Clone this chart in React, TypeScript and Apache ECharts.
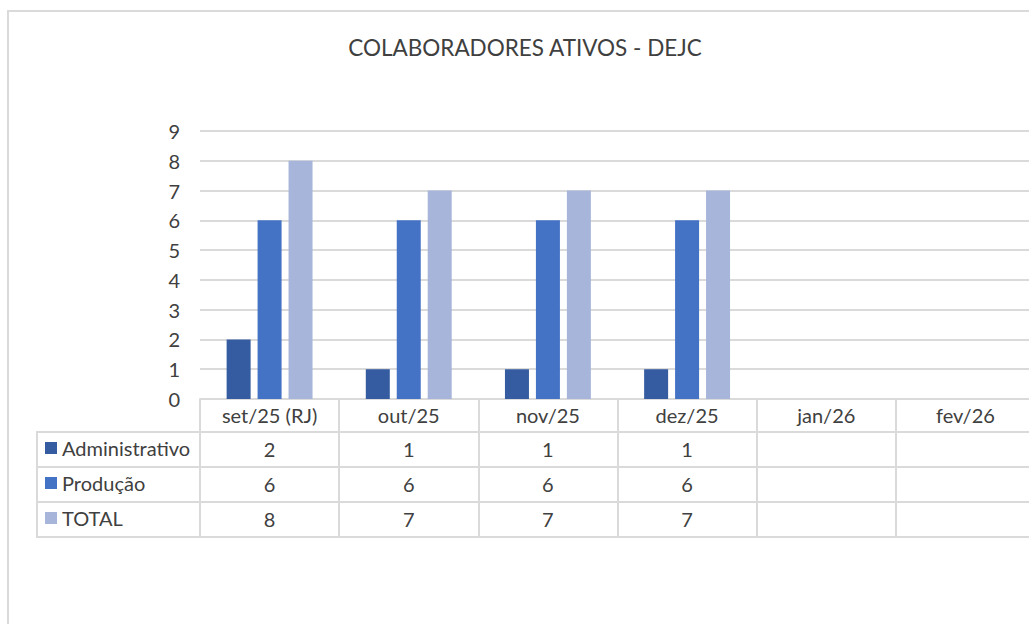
import React, { useEffect, useRef } from "react";
import * as echarts from "echarts";

const title = "COLABORADORES ATIVOS - DEJC";
const categories = ["set/25 (RJ)", "out/25", "nov/25", "dez/25", "jan/26", "fev/26"];
const administrativo: (number | null)[] = [2, 1, 1, 1, null, null];
const producao: (number | null)[] = [6, 6, 6, 6, null, null];
const total: (number | null)[] = [8, 7, 7, 7, null, null];
const seriesNames = ["Administrativo", "Produção", "TOTAL"];
const colors = ["#355ca1", "#4472c4", "#a7b5db"];
const yTicks = [0, 1, 2, 3, 4, 5, 6, 7, 8, 9];

const FONT = "Lato";
const TEXT = "#404040";
const LINE = "#dadada";
const FS = 20;

const toLabels = (arr: (number | null)[]) => arr.map((v) => (v == null ? "" : String(v)));

export default function App() {
  const ref = useRef<HTMLDivElement>(null);
  useEffect(() => {
    if (!ref.current) return;
    const chart = echarts.init(ref.current, undefined, { renderer: "svg" });
    const gridLeft = 200;
    const gridTop = 131;
    const gridBottomY = 399;
    const chartH = 624;
    const rowH = 35;
    const headerH = 33;
    const tableTop = gridBottomY + headerH; // first data row top
    const rows = [administrativo, producao, total];

    const rowAxes = rows.map((r, i) => ({
      type: "category",
      gridIndex: 0,
      position: "bottom",
      offset: headerH + i * rowH,
      data: toLabels(r),
      axisLine: { show: true, lineStyle: { color: LINE, width: 2 } },
      axisTick: { show: false },
      axisLabel: { margin: 7, fontFamily: FONT, fontSize: FS, color: TEXT, interval: 0 },
    }));

    chart.setOption({
      animation: false,
      title: {
        text: title,
        left: 520,
        textAlign: "center",
        top: 31,
        textStyle: { fontFamily: FONT, fontSize: 22.5, fontWeight: "normal", color: TEXT },
      },
      legend: seriesNames.map((name, i) => ({
        orient: "vertical",
        left: 45,
        top: tableTop + i * rowH + 4,
        itemWidth: 12,
        itemHeight: 12,
        icon: "rect",
        selectedMode: false,
        data: [name],
        padding: 0,
        textStyle: { fontFamily: FONT, fontSize: FS, lineHeight: 24, color: TEXT },
      })),
      grid: { left: gridLeft, top: gridTop, width: 835, bottom: chartH - gridBottomY, containLabel: false },
      xAxis: [
        {
          type: "category",
          data: categories,
          position: "bottom",
          axisLine: { show: true, lineStyle: { color: LINE, width: 2 } },
          axisTick: { show: true, length: headerH + rows.length * rowH + 1, lineStyle: { color: LINE, width: 2 } },
          axisLabel: { margin: 6, fontFamily: FONT, fontSize: FS, color: TEXT, interval: 0 },
        },
        ...rowAxes,
        {
          type: "category",
          position: "bottom",
          offset: headerH + rows.length * rowH,
          data: categories,
          axisLine: { show: true, lineStyle: { color: LINE, width: 2 } },
          axisTick: { show: false },
          axisLabel: { show: false },
        },
      ],
      yAxis: {
        type: "value",
        min: yTicks[0],
        max: yTicks[yTicks.length - 1],
        interval: 1,
        axisLine: { show: false },
        axisTick: { show: false },
        axisLabel: { margin: 20, fontFamily: FONT, fontSize: FS, color: TEXT },
        splitLine: { lineStyle: { color: LINE, width: 2 } },
      },
      series: [administrativo, producao, total].map((d, i) => ({
        name: seriesNames[i],
        type: "bar",
        xAxisIndex: 0,
        data: d,
        barWidth: 24,
        barGap: "29%",
        itemStyle: { color: colors[i] },
      })),
      graphic: [
        {
          type: "rect",
          shape: { x: 8, y: 11, width: 1100, height: 700 },
          style: { fill: "none", stroke: LINE, lineWidth: 2 },
          silent: true,
          z: -10,
        },
        ...[0, 1, 2, 3].map((i) => ({
          type: "line",
          shape: { x1: 37, y1: tableTop + i * rowH, x2: gridLeft, y2: tableTop + i * rowH },
          style: { stroke: LINE, lineWidth: 2 },
          silent: true,
        })),
        {
          type: "line",
          shape: { x1: 37, y1: tableTop - 1, x2: 37, y2: tableTop + 3 * rowH + 1 },
          style: { stroke: LINE, lineWidth: 2 },
          silent: true,
        },
      ],
    });
    return () => chart.dispose();
  }, []);
  return (
    <div style={{ position: "fixed", left: 0, top: 0, width: 1029, height: 624, overflow: "hidden", background: "#fff" }}>
      <div ref={ref} style={{ width: 1045, height: 624 }} />
    </div>
  );
}
